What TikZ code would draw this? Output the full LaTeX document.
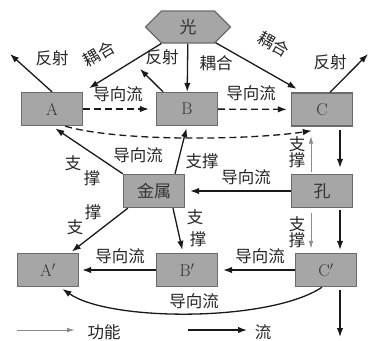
\documentclass[tikz,border=0pt]{standalone}
\usepackage{fontspec}
\usepackage{graphicx}
\newfontfamily\cjk{Noto Sans CJK SC}
\usetikzlibrary{arrows.meta,shapes.symbols,calc}

\tikzset{
  box/.style={draw=black!58, fill=black!35, line width=1.4pt,
    minimum width=61pt, minimum height=33pt, inner sep=0pt,
    text=black!80, font=\fontsize{17}{17}\selectfont},
  hexa/.style={signal, signal to=west and east, draw=black!58, fill=black!35,
    line width=1.2pt, minimum width=85pt, minimum height=32pt, inner sep=0pt,
    text=black!80, font=\cjk\fontsize{17}{17}\selectfont},
  lab/.style={text=black!85, inner sep=0.5pt, font=\cjk\fontsize{16.5}{16.5}\selectfont},
  flow/.style={draw=black!90, line width=1.3pt, -{Latex[length=9pt,width=6.5pt]}},
  dflow/.style={flow, dash pattern=on 7pt off 4pt},
  func/.style={draw=black!45, line width=0.9pt, -{Latex[length=8pt,width=4.5pt]}},
}

\begin{document}
\begin{tikzpicture}[x=1pt, y=-1pt]
\useasboundingbox (0,0) rectangle (369,340);

% nodes
\node[hexa] (guang) at (188,27) {光};
\node[box] (A) at (52,109) {A};
\node[box] (B) at (187,109) {B};
\node[box] (C) at (322,109.5) {C};
\node[box] (jinshu) at (154,191) {\cjk 金属};
\node[box] (kong) at (322,191) {\cjk 孔};
\node[box] (Ap) at (48,270) {A$'$};
\node[box] (Bp) at (187,270) {B$'$};
\node[box] (Cp) at (326,270) {C$'$};

% free ends of the reflection and outflow arrows
\coordinate (rA) at (10,54);
\coordinate (rB) at (140,69);
\coordinate (rC) at (368,54);
\coordinate (out) at (340,337);

% light: coupling and reflection
\draw[flow, shorten >=7pt] (guang) -- (A.north east);
\draw[flow] (guang) -- (B);
\draw[flow, shorten >=7pt] (guang) -- ([xshift=12pt]C.north west);
\draw[flow] (A.north) -- (rA);
\draw[flow] ([xshift=-24pt]B.north) -- (rB);
\draw[flow] ([xshift=8pt]C.north) -- (rC);

\node[lab] at (52,58) {反射};
\node[lab] at (99,54) {\rotatebox{30}{耦合}};
\node[lab] at (162,57) {反射};
\node[lab] at (216,63) {耦合};
\node[lab] at (274,44) {\rotatebox{-30}{耦合}};
\node[lab] at (330,62) {反射};

% guided flow along the top row
\draw[dflow, shorten >=7pt] (A) -- (B);
\draw[dflow, shorten >=4pt] (B) -- (C);
\draw[dflow] ([xshift=-18pt]A.south east) .. controls (120,142) and (250,140) .. ([xshift=21pt,yshift=-4pt]C.south west);
\node[lab] at (118,94) {导向流};
\node[lab] at (251,93) {导向流};

% pore column
\draw[flow, shorten <=3pt, shorten >=6pt] ([xshift=18pt]C.south) -- ([xshift=18pt]kong.north);
\draw[func, shorten <=2pt, shorten >=9pt] ([xshift=-11pt]kong.north) -- ([xshift=-11pt]C.south);
\draw[flow, shorten <=2pt, shorten >=3pt] ([xshift=18pt]kong.south) -- ([xshift=14pt]Cp.north);
\draw[func, shorten <=5pt, shorten >=4pt] ([xshift=-11pt]kong.south) -- ([xshift=-15pt]Cp.north);
\draw[flow, shorten <=3pt] ([xshift=14pt]Cp.south) -- (out);
\node[lab, align=center] at (297,152) {支\\[-1pt]撑};
\node[lab, align=center] at (297,232) {支\\[-1pt]撑};

% metal
\draw[flow, shorten >=5pt] (kong) -- (jinshu);
\node[lab] at (246,177) {导向流};
\draw[flow, shorten >=2pt] ([xshift=21pt]jinshu.north) -- (B.south);
\node[lab] at (202,161) {支撑};
\draw[flow, shorten >=4pt] (jinshu.north west) -- (A.south);
\node[lab] at (138,155) {导向流};
\node[lab] at (73,163) {支};
\node[lab] at (92,178) {撑};
\draw[flow, shorten >=2pt] ([xshift=5pt]jinshu.south west) -- ([xshift=-9pt]Ap.north east);
\node[lab] at (93,212) {撑};
\node[lab] at (75,227) {支};
\draw[flow, shorten >=3pt] ([xshift=19pt]jinshu.south) -- ([xshift=-4pt]Bp.north);
\node[lab] at (195,217) {支};
\node[lab] at (198,239) {撑};

% bottom row
\draw[flow, shorten >=5pt] (Cp) -- (Bp);
\draw[flow, shorten >=3pt] (Bp) -- (Ap);
\node[lab] at (260,256) {导向流};
\node[lab] at (120,256) {导向流};
\draw[flow, shorten >=3pt] ([xshift=-4pt]Cp.south) .. controls (270,322) and (110,322) .. ([xshift=12pt]Ap.south);
\node[lab] at (194,301) {导向流};

% legend
\coordinate (f1) at (17,330);
\coordinate (f2) at (75,330);
\coordinate (l1) at (188,330);
\coordinate (l2) at (247,330);
\draw[func] (f1) -- (f2);
\node[lab] (lfun) at (104,332) {功能};
\draw[flow] (l1) -- (l2);
\node[lab] (lflow) at (263,332) {流};
\end{tikzpicture}
\end{document}
